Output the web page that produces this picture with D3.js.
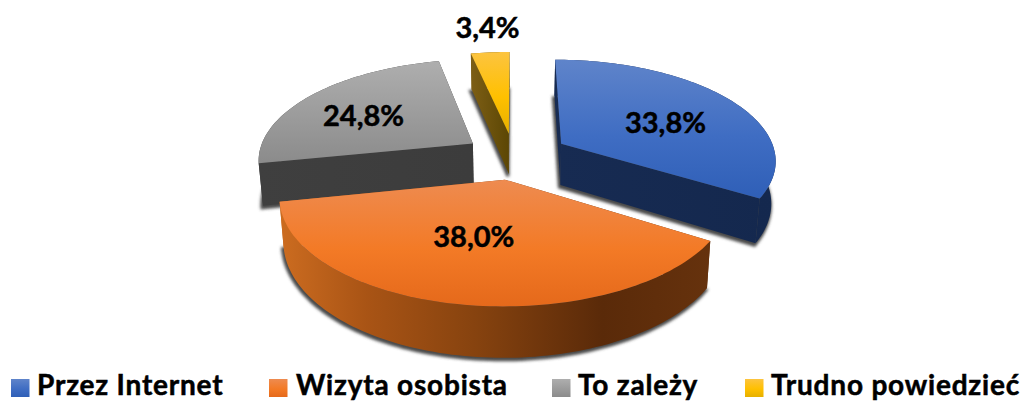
<!DOCTYPE html>
<html>
<head>
<meta charset="utf-8">
<script src="https://cdn.jsdelivr.net/npm/d3@7"></script>
<style>
  body { margin: 0; background: #fff; }
  text { font-family: Lato, "Open Sans", sans-serif; font-weight: 700; fill: #000; stroke: #000; stroke-width: 0.5; }
</style>
</head>
<body>
<div id="chart"></div>
<script>
var categories = ["Przez Internet", "Wizyta osobista", "To zależy", "Trudno powiedzieć"];
var shares = [33.8, 38.0, 24.8, 3.4];
var shareLabels = ["33,8%", "38,0%", "24,8%", "3,4%"];

var topColors = [
  ["#5f84ca", "#3f6dc3", "#2f5fb7"],
  ["#ee8b50", "#f37a26", "#e5691b"],
  ["#aeaeae", "#9b9b9b", "#8b8b8b"],
  ["#fcc440", "#ffc000", "#e6b000"]
];

var width = 1027, height = 401;

// view of the tilted disc
var cx = 514, cy = 156, radius = 215;
var tilt = 0.465, eye = 1443, depth = 42;
var explode = [55, 50, 50, 50];

// distance of each label from its slice apex, and small nudges
var labelRadius = [128, 109, 140, 292];
var labelNudge = [[1, 16], [-9, 9], [-2, 15], [3, 10]];
var drawOrder = [3, 2, 0, 1];

// legend
var legendX = [11, 269, 552, 745];
var legendTextX = [37, 296, 578, 771];

var svg = d3.select("#chart")
  .append("svg")
    .attr("width", width)
    .attr("height", height)
    .style("display", "block");

var defs = svg.append("defs");

defs.append("filter")
    .attr("id", "soft")
    .attr("x", "-20%").attr("y", "-20%")
    .attr("width", "140%").attr("height", "140%")
  .append("feGaussianBlur")
    .attr("stdDeviation", 1.6);

topColors.forEach(function(c, i) {
  var g = defs.append("linearGradient")
    .attr("id", "top" + i)
    .attr("x1", 0).attr("y1", 0).attr("x2", 0).attr("y2", 1);
  [0, 0.55, 1].forEach(function(o, j) {
    g.append("stop").attr("offset", o).attr("stop-color", c[j]);
  });
});

function wallGradient(id, x1, x2, stops) {
  var g = defs.append("linearGradient")
    .attr("id", id)
    .attr("gradientUnits", "userSpaceOnUse")
    .attr("x1", x1).attr("y1", 0).attr("x2", x2).attr("y2", 0);
  stops.forEach(function(s) {
    g.append("stop").attr("offset", s[0]).attr("stop-color", s[1]);
  });
}
wallGradient("wall0", 555, 775, [[0, "#172b52"], [1, "#14284e"]]);
wallGradient("wall1", 280, 710, [[0, "#cc6c20"], [0.2, "#a95415"], [0.45, "#87430f"], [0.75, "#5a2a09"], [1, "#66320d"]]);
wallGradient("wall2", 258, 471, [[0, "#3f3f3f"], [1, "#3c3c3c"]]);
wallGradient("wall3", 471, 510, [[0, "#7d5e15"], [1, "#5b4604"]]);

var pie = d3.pie().sort(null).value(function(d) { return d; });
var slices = pie(shares);

var line = d3.line();

// angle clockwise from the back of the disc, z goes down through the thickness
function project(a, r, d, z) {
  var mid = (d.startAngle + d.endAngle) / 2;
  var X = r * Math.sin(a) + explode[d.index] * Math.sin(mid);
  var Y = -r * Math.cos(a) - explode[d.index] * Math.cos(mid);
  var s = eye / (eye - Y);
  return [cx + X * s * (1 - z / 2500), cy + tilt * Y * s + z * s];
}

function arcPoints(d, z) {
  var n = Math.max(6, Math.round((d.endAngle - d.startAngle) * 40));
  return d3.range(n + 1).map(function(i) {
    return project(d.startAngle + (d.endAngle - d.startAngle) * i / n, radius, d, z);
  });
}

function facePath(d, z) {
  return line([project(0, 0, d, z)].concat(arcPoints(d, z))) + "Z";
}

function radialWall(d, a) {
  return line([project(0, 0, d, 0), project(a, radius, d, 0), project(a, radius, d, depth), project(0, 0, d, depth)]) + "Z";
}

function arcWall(d) {
  return line(arcPoints(d, 0).concat(arcPoints(d, depth).reverse())) + "Z";
}

var pieGroup = svg.append("g");

drawOrder.forEach(function(i) {
  var d = slices[i];
  var g = pieGroup.append("g");

  g.append("path")
    .attr("d", facePath(d, depth))
    .attr("transform", "translate(-1,2)")
    .attr("fill", "#4a4a4a")
    .attr("stroke", "#4a4a4a")
    .attr("stroke-width", 3)
    .attr("filter", "url(#soft)");

  [d.startAngle, d.endAngle].forEach(function(a) {
    g.append("path").attr("d", radialWall(d, a)).attr("fill", "url(#wall" + i + ")");
  });
  g.append("path").attr("d", arcWall(d)).attr("fill", "url(#wall" + i + ")");
  g.append("path").attr("d", facePath(d, 0)).attr("fill", "url(#top" + i + ")");
});

svg.append("g")
  .selectAll("text")
  .data(slices)
  .enter()
  .append("text")
    .attr("text-anchor", "middle")
    .attr("font-size", 29)
    .attr("x", function(d, i) {
      var mid = (d.startAngle + d.endAngle) / 2;
      return project(mid, labelRadius[i], d, 0)[0] + labelNudge[i][0];
    })
    .attr("y", function(d, i) {
      var mid = (d.startAngle + d.endAngle) / 2;
      return project(mid, labelRadius[i], d, 0)[1] + labelNudge[i][1];
    })
    .text(function(d, i) { return shareLabels[i]; });

var legend = svg.append("g")
  .selectAll("g")
  .data(categories)
  .enter()
  .append("g");

legend.append("rect")
    .attr("x", function(d, i) { return legendX[i]; })
    .attr("y", 379)
    .attr("width", 18.5)
    .attr("height", 18)
    .attr("fill", function(d, i) { return "url(#top" + i + ")"; });

legend.append("text")
    .attr("x", function(d, i) { return legendTextX[i]; })
    .attr("y", 395)
    .attr("font-size", 28)
    .attr("letter-spacing", 0.8)
    .text(function(d) { return d; });
</script>
</body>
</html>
